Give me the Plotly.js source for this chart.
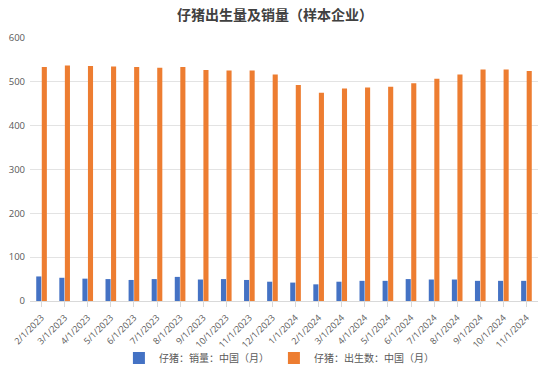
<!DOCTYPE html>
<html><head><meta charset="utf-8">
<script src="https://cdn.plot.ly/plotly-3.0.1.min.js"></script>
<style>html,body{margin:0;padding:0;background:#fff}#chart{width:550px;height:378px}</style>
</head><body><div id="chart"></div>
<script>
const categories = ["2/1/2023","3/1/2023","4/1/2023","5/1/2023","6/1/2023","7/1/2023","8/1/2023","9/1/2023","10/1/2023","11/1/2023","12/1/2023","1/1/2024","2/1/2024","3/1/2024","4/1/2024","5/1/2024","6/1/2024","7/1/2024","8/1/2024","9/1/2024","10/1/2024","11/1/2024"];
const sales = [56,53,51,50,48,50,55,49,50,48,44,42,38,44,46,46,50,49,49,46,46,46];
const births = [534,537,536,535,534,532,534,527,526,526,517,493,475,485,487,489,497,507,517,528,528,525];
const font = "Noto Sans CJK SC, Noto Sans, sans-serif";
const data = [
  {type:'bar', name:'仔猪：销量：中国（月）', x:categories, y:sales, marker:{color:'#4472C4'}},
  {type:'bar', name:'仔猪：出生数：中国（月）', x:categories, y:births, marker:{color:'#ED7D31'}}
];
const layout = {
  width:550, height:378,
  margin:{l:30, r:12, t:38, b:77},
  paper_bgcolor:'#fff', plot_bgcolor:'#fff',
  font:{family:font, color:'#595959', size:10},
  title:{text:'<b>仔猪出生量及销量（样本企业）</b>', x:0.5, xanchor:'center', y:0.96, yanchor:'middle', font:{family:font, size:14, color:'#404040'}},
  barmode:'group', bargap:0.52, bargroupgap:0.08,
  xaxis:{type:'category', tickangle:-45, showgrid:false, showline:true, linecolor:'#d9d9d9', ticks:'outside', ticklen:5, tickcolor:'#d9d9d9', ticklabelstandoff:2, tickfont:{family:'Open Sans, sans-serif', size:9, color:'#595959'}, automargin:false},
  yaxis:{range:[0,600], dtick:100, showgrid:true, gridcolor:'#e3e3e3', zeroline:false, showline:false, ticklabelstandoff:4, tickfont:{family:'Open Sans, sans-serif', size:9.5, color:'#595959'}, automargin:false},
  showlegend:true,
  legend:{orientation:'h', xref:'paper', x:0.49, xanchor:'center', yref:'container', y:0.053, yanchor:'middle', bgcolor:'rgba(0,0,0,0)', font:{size:10, color:'#595959'}, itemwidth:30, traceorder:'normal'}
};
Plotly.newPlot('chart', data, layout, {displayModeBar:false, staticPlot:true});
</script></body></html>
